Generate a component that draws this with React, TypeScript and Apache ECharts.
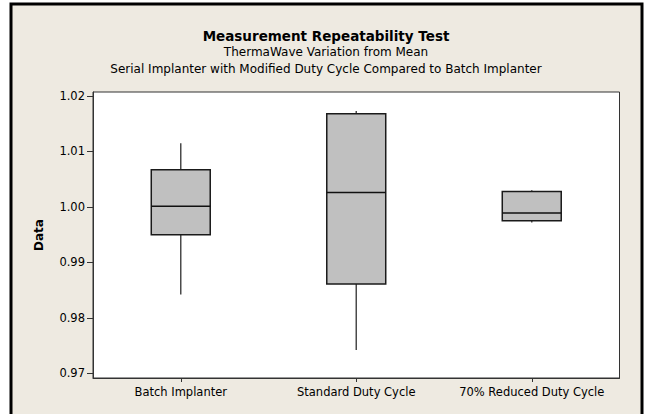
import React, { useEffect, useRef } from 'react';
import * as echarts from 'echarts';

const categories = ['Batch Implanter', 'Standard Duty Cycle', '70% Reduced Duty Cycle'];
const whiskerLow = [0.9842, 0.9742, 0.9972];
const q1 = [0.995, 0.9861, 0.9975];
const median = [1.0001, 1.0026, 0.9989];
const q3 = [1.0067, 1.0168, 1.0028];
const whiskerHigh = [1.0115, 1.0173, 1.003];
const yTicks = [0.97, 0.98, 0.99, 1.0, 1.01, 1.02];

const titleText = 'Measurement Repeatability Test';
const subtitle1 = 'ThermaWave Variation from Mean';
const subtitle2 = 'Serial Implanter with Modified Duty Cycle Compared to Batch Implanter';
const yName = 'Data';

const FONT = '"DejaVu Sans", Tahoma, sans-serif';

export default function App() {
  const ref = useRef<HTMLDivElement>(null);
  useEffect(() => {
    if (!ref.current) return;
    const chart = echarts.init(ref.current, undefined, { renderer: 'svg' });
    const data = categories.map((c, i) => [i, whiskerLow[i], q1[i], median[i], q3[i], whiskerHigh[i]]);
    chart.setOption({
      animation: false,
      backgroundColor: '#ffffff',
      graphic: [
        {
          type: 'rect',
          z: -100,
          silent: true,
          shape: { x: 11, y: 4, width: 631, height: 430 },
          style: { fill: '#EEEAE1', stroke: '#000', lineWidth: 3 },
        },
      ],
      title: [
        {
          text: titleText,
          left: 'center',
          top: 29,
          padding: 0,
          textStyle: { fontFamily: FONT, fontWeight: 'bold', fontSize: 13.5, color: '#000' },
        },
        {
          text: subtitle1,
          left: 'center',
          top: 46,
          padding: 0,
          textStyle: { fontFamily: FONT, fontWeight: 'normal', fontSize: 12, color: '#000' },
        },
        {
          text: subtitle2,
          left: 'center',
          top: 63,
          padding: 0,
          textStyle: { fontFamily: FONT, fontWeight: 'normal', fontSize: 12, color: '#000' },
        },
      ],
      grid: {
        left: 93,
        top: 92,
        width: 526.5,
        height: 286,
        show: true,
        backgroundColor: '#ffffff',
        borderColor: '#333',
        borderWidth: 1,
        containLabel: false,
      },
      xAxis: {
        type: 'category',
        data: categories,
        axisLine: { show: true, lineStyle: { color: '#333', width: 1 } },
        axisTick: { show: true, alignWithLabel: true, length: 4, lineStyle: { color: '#333' } },
        axisLabel: { interval: 0, fontFamily: FONT, fontSize: 11.5, color: '#000', margin: 8 },
        splitLine: { show: false },
      },
      yAxis: {
        type: 'value',
        min: 0.96915,
        max: 1.02072,
        name: yName,
        nameLocation: 'middle',
        nameRotate: 90,
        nameGap: 48,
        nameTextStyle: { fontFamily: FONT, fontWeight: 'bold', fontSize: 12, color: '#000' },
        axisLine: { show: true, lineStyle: { color: '#333', width: 1 } },
        axisTick: { show: true, length: 6, customValues: yTicks, lineStyle: { color: '#333' } },
        axisLabel: {
          fontFamily: FONT,
          fontSize: 11.5,
          color: '#000',
          margin: 8,
          customValues: yTicks,
          formatter: (v: number) => v.toFixed(2),
        },
        splitLine: { show: false },
      },
      series: [
        {
          type: 'custom',
          data,
          encode: { x: 0, y: [1, 2, 3, 4, 5] },
          renderItem: (params: any, api: any) => {
            const x = api.value(0);
            const lo = api.coord([x, api.value(1)]);
            const b1 = api.coord([x, api.value(2)]);
            const md = api.coord([x, api.value(3)]);
            const b3 = api.coord([x, api.value(4)]);
            const hi = api.coord([x, api.value(5)]);
            const band = api.size([1, 0])[0];
            const w = band * 0.336;
            const cx = lo[0];
            return {
              type: 'group',
              children: [
                {
                  type: 'line',
                  shape: { x1: cx, y1: hi[1], x2: cx, y2: b3[1] },
                  style: { stroke: '#4a4a4a', lineWidth: 1.5 },
                },
                {
                  type: 'line',
                  shape: { x1: cx, y1: b1[1], x2: cx, y2: lo[1] },
                  style: { stroke: '#4a4a4a', lineWidth: 1.5 },
                },
                {
                  type: 'rect',
                  shape: { x: cx - w / 2, y: b3[1], width: w, height: b1[1] - b3[1] },
                  style: { fill: '#C0C0C0', stroke: '#1a1a1a', lineWidth: 1.5 },
                },
                {
                  type: 'line',
                  shape: { x1: cx - w / 2, y1: md[1], x2: cx + w / 2, y2: md[1] },
                  style: { stroke: '#111', lineWidth: 1.5 },
                },
              ],
            };
          },
        },
      ],
    });
    return () => chart.dispose();
  }, []);
  return (
    <div
      ref={ref}
      style={{ position: 'fixed', left: 0, top: 0, width: 652, height: 414 }}
    />
  );
}
